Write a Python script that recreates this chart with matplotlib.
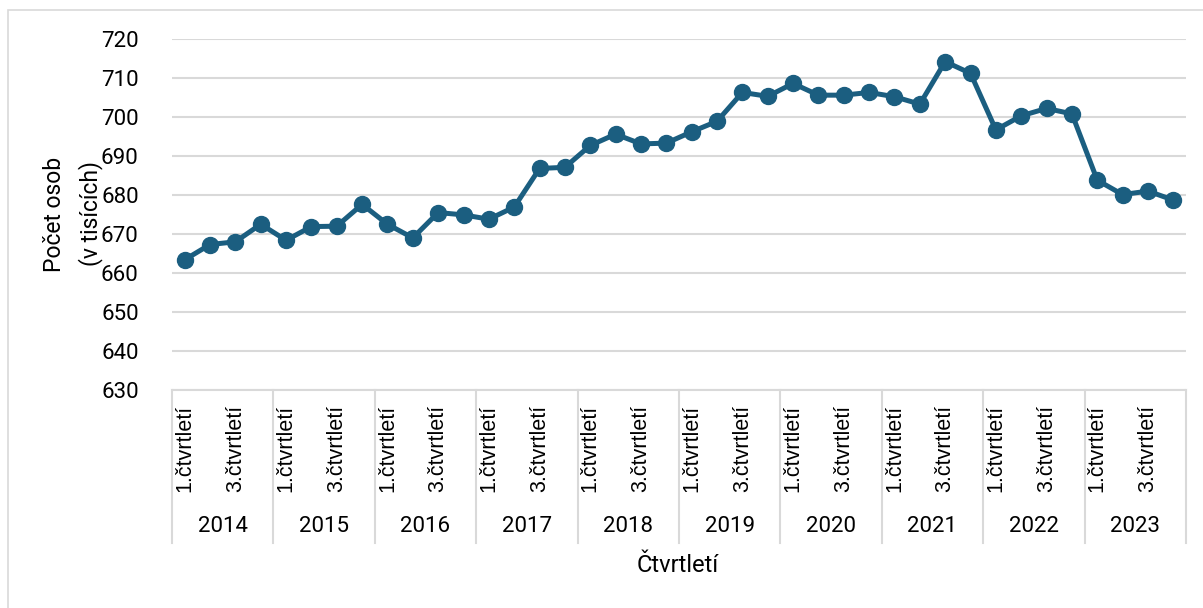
import matplotlib
matplotlib.use("Agg")
import matplotlib.pyplot as plt
import matplotlib.transforms as mtransforms
from matplotlib.patches import Rectangle

years = ['2014', '2015', '2016', '2017', '2018', '2019', '2020', '2021', '2022', '2023']
quarter_labels = ['1.čtvrtletí', '', '3.čtvrtletí', '']
values = [663.4, 667.3, 668.0, 672.5, 668.4, 671.9, 672.0, 677.6,
          672.5, 669.0, 675.5, 674.9, 673.8, 676.9, 686.8, 687.1,
          692.7, 695.6, 693.1, 693.3, 696.2, 698.9, 706.3, 705.3,
          708.6, 705.6, 705.6, 706.3, 705.2, 703.3, 714.2, 711.2,
          696.7, 700.3, 702.2, 700.8, 683.8, 680.1, 681.0, 678.7]

plt.rcParams['font.family'] = ['Roboto', 'DejaVu Sans']

W, H = 1203, 608
fig = plt.figure(figsize=(W / 100, H / 100), dpi=100)
fig.patches.append(Rectangle((8 / W, -0.05), 1.2, (H - 10) / H + 0.05,
                             transform=fig.transFigure, fill=False,
                             edgecolor='#d9d9d9', linewidth=1.2))

ax = fig.add_axes([172 / W, (H - 390) / H, 1014 / W, 351 / H])
x = list(range(len(values)))
ax.plot(x, values, color='#1b5e80', linewidth=3.6, marker='o',
        markersize=11.5, clip_on=False, zorder=3)

ax.set_xlim(-0.5, len(values) - 0.5)
ax.set_ylim(630, 720)
ax.set_yticks(range(630, 721, 10))
ax.grid(axis='y', color='#d9d9d9', linewidth=1.5)
ax.set_axisbelow(True)
for s in ['top', 'right', 'left']:
    ax.spines[s].set_visible(False)
ax.spines['bottom'].set_color('#d9d9d9')
ax.spines['bottom'].set_linewidth(1.5)
ax.tick_params(axis='y', length=0, pad=24, labelsize=16)

ax.set_xticks(x)
ax.set_xticklabels(quarter_labels * len(years), rotation=90,
                   fontsize=15.5, family=['Liberation Sans', 'DejaVu Sans'])
ax.tick_params(axis='x', length=0, pad=11)

# year level of the category axis
trans = mtransforms.blended_transform_factory(ax.transData, fig.transFigure)
for i, yr in enumerate(years):
    ax.text(i * 4 + 1.5, (H - 527) / H, yr, transform=trans,
            ha='center', va='center', fontsize=16)
for k in range(len(years) + 1):
    ax.plot([k * 4 - 0.5] * 2, [(H - 543) / H, (H - 390) / H], transform=trans,
            color='#d9d9d9', linewidth=1.5, clip_on=False)

fig.text(678 / W, (H - 565) / H, 'Čtvrtletí', ha='center', va='center', fontsize=17)
fig.text(73 / W, (H - 214) / H, 'Počet osob\n(v tisících)', ha='center',
         va='center', rotation=90, fontsize=16.5, linespacing=1.6)

fig.savefig('out.png', dpi=100)
